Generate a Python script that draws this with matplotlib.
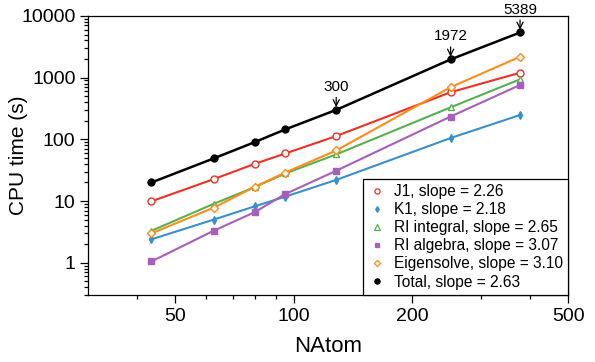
import numpy as np
import matplotlib
matplotlib.use("Agg")
import matplotlib.pyplot as plt
from matplotlib.lines import Line2D
from matplotlib.ticker import LogLocator, FixedLocator, NullFormatter, FixedFormatter

plt.rcParams['font.family'] = ['Liberation Sans', 'DejaVu Sans']

# data
natom = [43.5, 62.6, 79.6, 95.3, 128.4, 251, 377]
j1 = [9.9, 22.6, 40, 59, 113, 580, 1200]
k1 = [2.4, 5.0, 8.2, 11.8, 22, 105, 248]
ri_int = [3.3, 9.0, 16.8, 28, 57, 330, 940]
ri_alg = [1.05, 3.3, 6.6, 13, 31, 234, 760]
eigen = [3.0, 7.8, 17, 29, 66, 700, 2180]
total = [20, 49, 90, 145, 300, 1972, 5389]

labels = ['J1, slope = 2.26', 'K1, slope = 2.18', 'RI integral, slope = 2.65',
          'RI algebra, slope = 3.07', 'Eigensolve, slope = 3.10', 'Total, slope = 2.63']
annot_idx = [4, 5, 6]

x_major = [50, 100, 200, 500]
x_minor = [40, 60, 70, 80, 90, 300, 400]

# styles
series = [
    (j1, '#ee3124', 'o', 5, 'white'),
    (k1, '#3a8fcf', 'd', 4, None),
    (ri_int, '#55b24f', '^', 5, 'white'),
    (ri_alg, '#a65fba', 's', 4.5, None),
    (eigen, '#ff8c1a', 'D', 4.2, 'white'),
    (total, 'black', 'o', 5, None),
]

fig = plt.figure(figsize=(5.95, 3.62), dpi=100)
ax = fig.add_axes([0.148, 0.185, 0.807, 0.771])

handles = []
for (vals, col, mk, ms, mfc), lab in zip(series, labels):
    face = mfc if mfc else col
    lw = 1.8 if col == 'black' else 1.5
    ax.plot(natom, vals, color=col, lw=lw, marker=mk, ms=ms,
            mfc=face, mec=col, mew=1.0, zorder=3)
    handles.append(Line2D([], [], ls='none', marker=mk, ms=ms * 0.75,
                          color=col, mfc=face, mec=col, mew=0.9))

for i in annot_idx:
    ax.annotate(str(total[i]), xy=(natom[i], total[i]), xytext=(0, 11.5),
                textcoords='offset points', ha='center', va='bottom',
                fontsize=11,
                arrowprops=dict(arrowstyle='->', color='black', lw=0.9,
                                shrinkA=0.5, shrinkB=2))

ax.set_xscale('log')
ax.set_yscale('log')
ax.set_xlim(30, 500)
ax.set_ylim(0.3, 10000)

ax.xaxis.set_major_locator(FixedLocator(x_major))
ax.xaxis.set_major_formatter(FixedFormatter([str(v) for v in x_major]))
ax.xaxis.set_minor_locator(FixedLocator(x_minor))
ax.xaxis.set_minor_formatter(NullFormatter())
ax.yaxis.set_major_locator(FixedLocator([1, 10, 100, 1000, 10000]))
ax.yaxis.set_major_formatter(FixedFormatter(['1', '10', '100', '1000', '10000']))
ax.yaxis.set_minor_locator(LogLocator(base=10, subs=np.arange(2, 10), numticks=20))
ax.yaxis.set_minor_formatter(NullFormatter())

ax.tick_params(which='major', direction='out', length=6, width=0.9, labelsize=14, pad=3)
ax.tick_params(which='minor', direction='out', length=3, width=0.9)
for s in ax.spines.values():
    s.set_linewidth(0.9)

ax.set_xlabel('NAtom', fontsize=16, labelpad=8)
ax.set_ylabel('CPU time (s)', fontsize=15)
ax.yaxis.set_label_coords(-0.125, 0.5)

leg = ax.legend(handles, labels, loc='lower right', fontsize=11.2,
                borderaxespad=0, handlelength=1.0, handletextpad=0.6,
                labelspacing=0.2, borderpad=0.35, fancybox=False,
                framealpha=1, edgecolor='black')
leg.get_frame().set_linewidth(0.9)

fig.savefig('out.png', dpi=100)
